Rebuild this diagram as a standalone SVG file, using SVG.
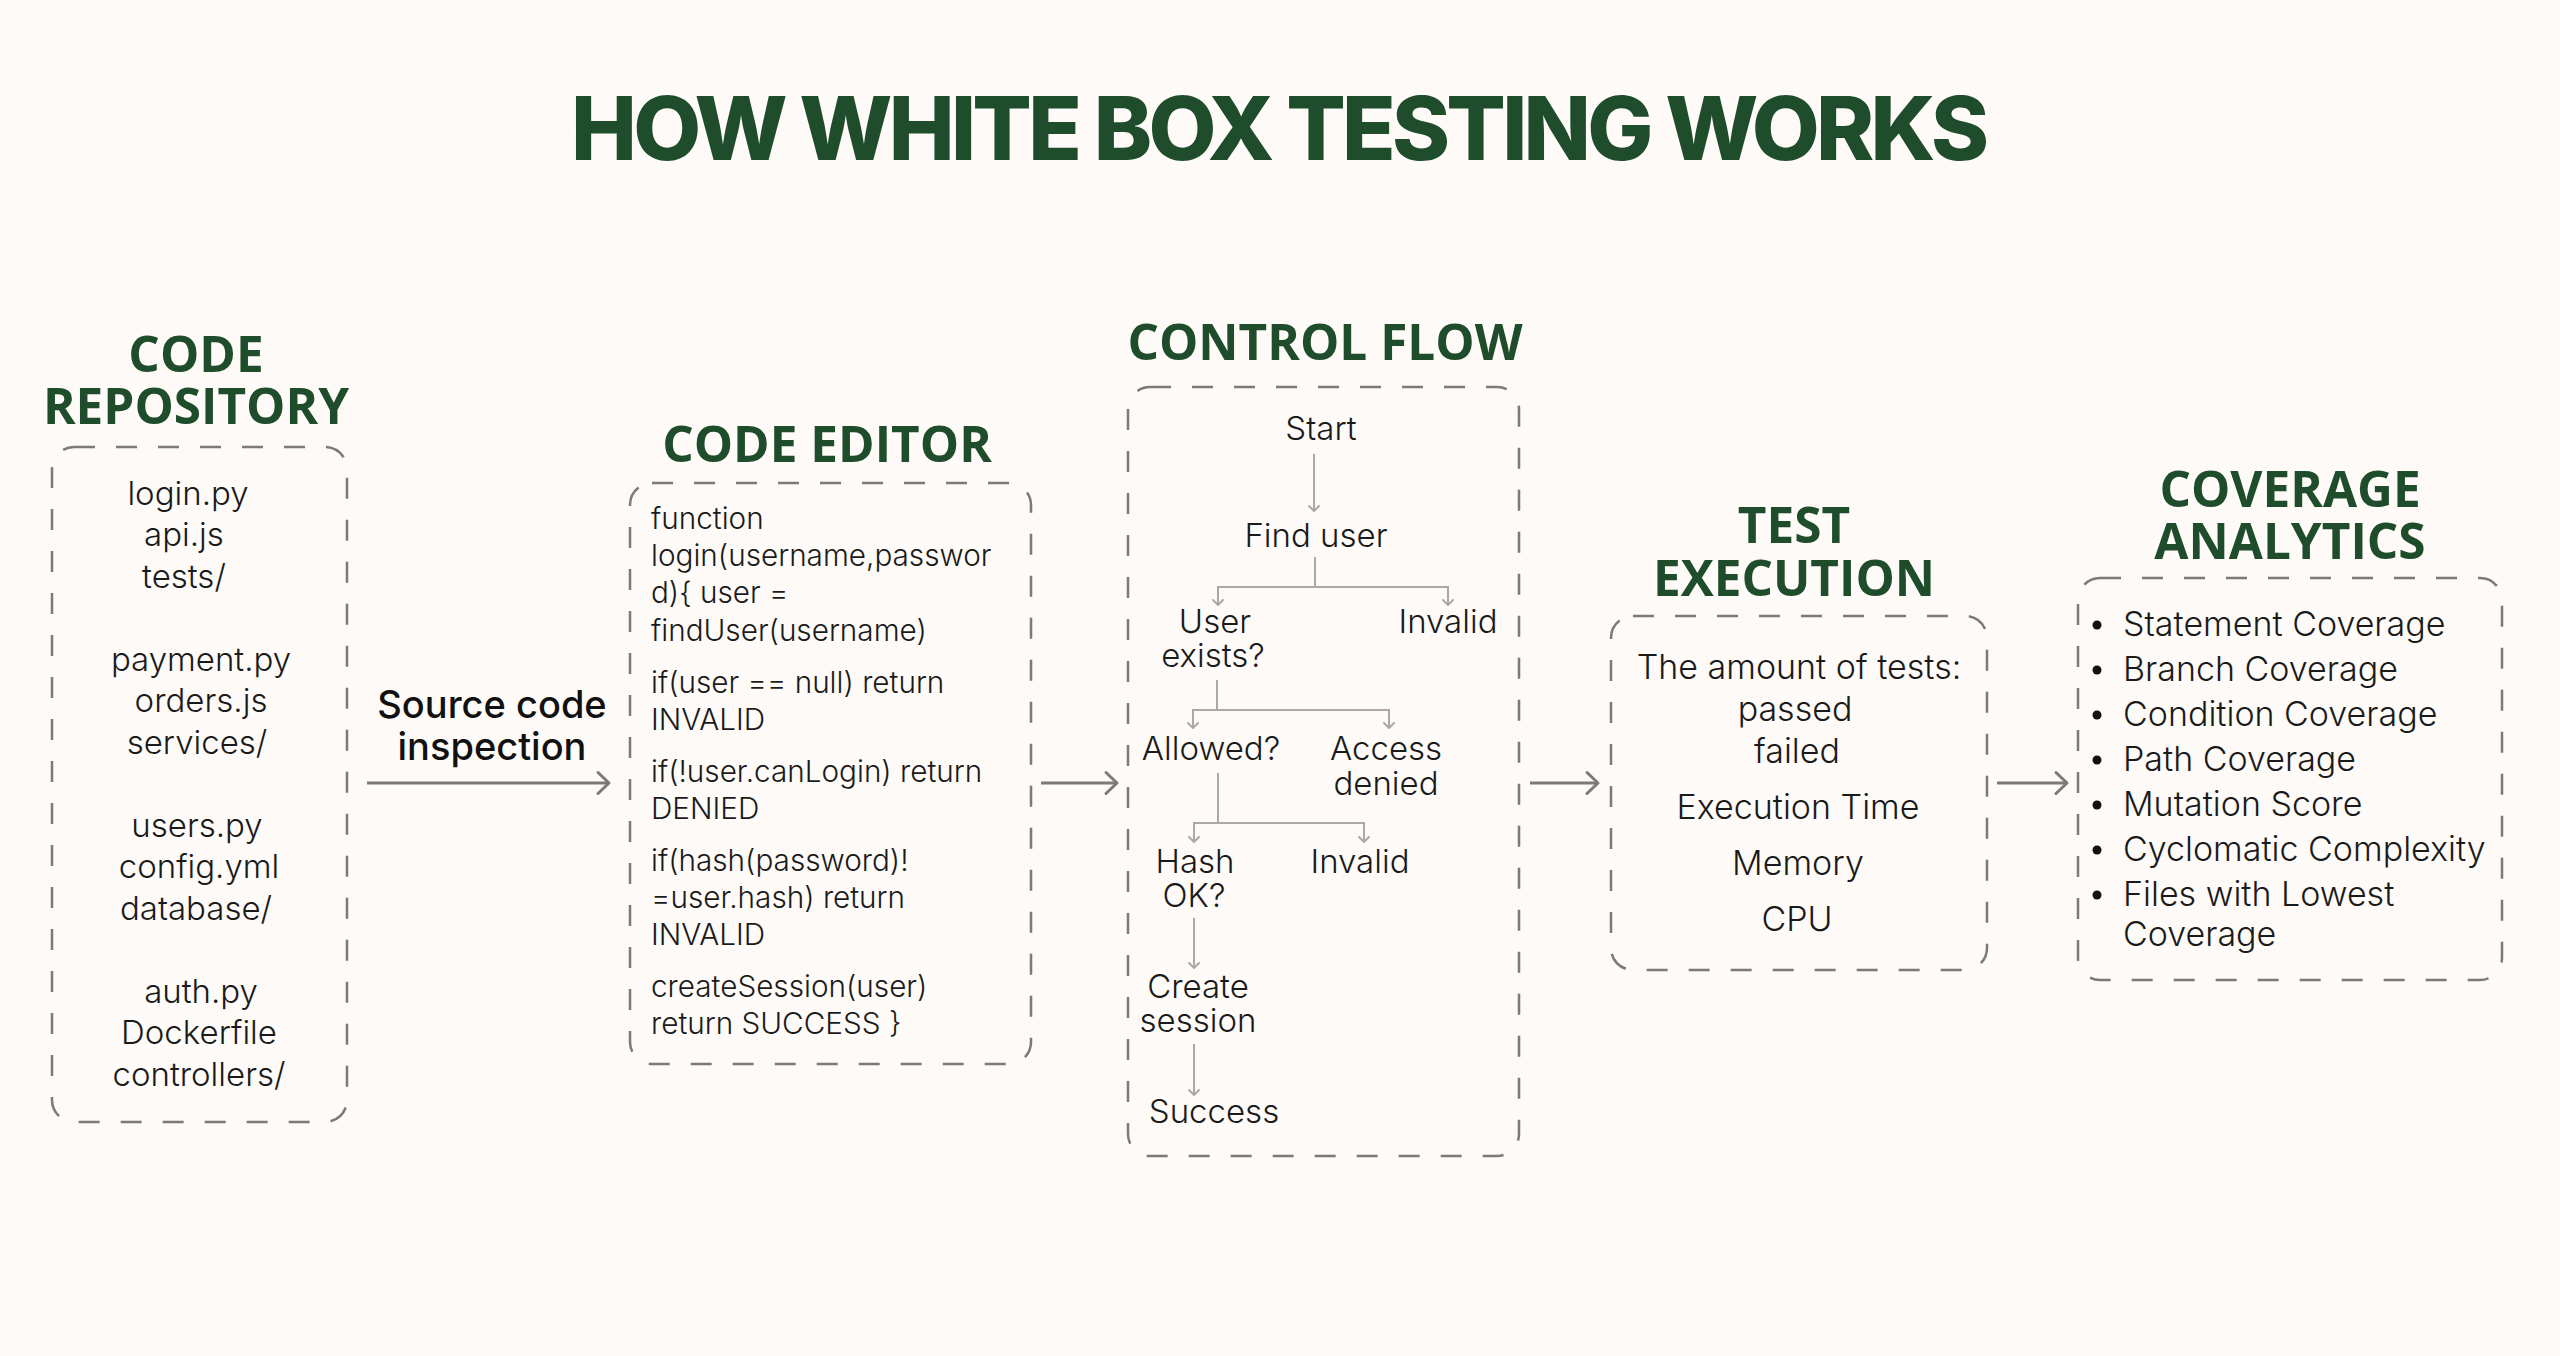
<svg xmlns="http://www.w3.org/2000/svg" width="2560" height="1356" viewBox="0 0 2560 1356">
  <defs>
    <style>
      .title { font-family: Inter, "Liberation Sans", sans-serif; font-weight: 800; font-size: 88px; fill: #1f4d2b; }
      .head { font-family: "Open Sans", "Liberation Sans", sans-serif; font-weight: 700; font-size: 49.5px; fill: #1f4d2b; text-anchor: middle; }
      .body { font-family: Inter, "Liberation Sans", sans-serif; font-weight: 300; font-size: 33px; fill: #1a1a1a; }
      .big { font-size: 34px; }
      .code { font-family: Inter, "Liberation Sans", sans-serif; font-weight: 300; font-size: 29.7px; fill: #1a1a1a; }
      .mid { text-anchor: middle; }
      .label { font-family: Inter, "Liberation Sans", sans-serif; font-weight: 500; font-size: 38px; fill: #111111; text-anchor: middle; }
      .box { fill: none; stroke: #7a7a7a; stroke-width: 2.5; stroke-dasharray: 21 21; }
      .main { fill: none; stroke: #7a7a7a; stroke-width: 3; }
      .flow { fill: none; stroke: #a9a9a9; stroke-width: 2; }
    </style>
    <marker id="big" markerUnits="userSpaceOnUse" markerWidth="30" markerHeight="30" viewBox="-15 -15 30 30" refX="0" refY="0" orient="auto">
      <path d="M-11,-10.5 L0,0 L-11,10.5" fill="none" stroke="#7a7a7a" stroke-width="3" stroke-linecap="round" stroke-linejoin="round"/>
    </marker>
    <marker id="sm" markerUnits="userSpaceOnUse" markerWidth="16" markerHeight="16" viewBox="-8 -8 16 16" refX="0" refY="0" orient="auto">
      <path d="M-5,-5 L0,0 L-5,5" fill="none" stroke="#a9a9a9" stroke-width="2" stroke-linecap="round" stroke-linejoin="round"/>
    </marker>
  </defs>

  <rect x="0" y="0" width="2560" height="1356" fill="#fdfaf8"/>

  <text class="title" x="1280" y="160" text-anchor="middle" textLength="1418" lengthAdjust="spacing">HOW WHITE BOX TESTING WORKS</text>

  <g id="code-repository">
    <text class="head" x="196" y="372">CODE</text>
    <text class="head" x="196" y="424">REPOSITORY</text>
    <rect class="box" x="52" y="447" width="295" height="675" rx="22"/>
    <text class="body mid" x="188" y="505">login.py</text>
    <text class="body mid" x="184" y="546">api.js</text>
    <text class="body mid" x="184" y="588">tests/</text>
    <text class="body mid" x="201" y="671">payment.py</text>
    <text class="body mid" x="201" y="712">orders.js</text>
    <text class="body mid" x="197" y="754">services/</text>
    <text class="body mid" x="197" y="837">users.py</text>
    <text class="body mid" x="199" y="878">config.yml</text>
    <text class="body mid" x="196" y="920">database/</text>
    <text class="body mid" x="201" y="1003">auth.py</text>
    <text class="body mid" x="199" y="1044">Dockerfile</text>
    <text class="body mid" x="199" y="1086">controllers/</text>
  </g>

  <g id="source-code-inspection">
    <text class="label" x="492" y="718">Source code</text>
    <text class="label" x="492" y="760">inspection</text>
  </g>

  <g id="code-editor">
    <text class="head" x="827" y="462">CODE EDITOR</text>
    <rect class="box" x="630" y="483" width="401" height="581" rx="22"/>
    <text class="code" x="651" y="529">function</text>
    <text class="code" x="651" y="566">login(username,passwor</text>
    <text class="code" x="651" y="603">d){ user =</text>
    <text class="code" x="651" y="641">findUser(username)</text>
    <text class="code" x="651" y="693">if(user == null) return</text>
    <text class="code" x="651" y="730">INVALID</text>
    <text class="code" x="651" y="782">if(!user.canLogin) return</text>
    <text class="code" x="651" y="819">DENIED</text>
    <text class="code" x="651" y="871">if(hash(password)!</text>
    <text class="code" x="651" y="908">=user.hash) return</text>
    <text class="code" x="651" y="945">INVALID</text>
    <text class="code" x="651" y="997">createSession(user)</text>
    <text class="code" x="651" y="1034">return SUCCESS }</text>
  </g>

  <g id="control-flow">
    <text class="head" x="1325" y="360">CONTROL FLOW</text>
    <rect class="box" x="1128" y="387" width="391" height="769" rx="22"/>
    <g id="cf-start"><text class="body mid" x="1321" y="440">Start</text></g>
    <g id="cf-find-user"><text class="body mid" x="1316" y="547">Find user</text></g>
    <g id="cf-user-exists">
      <text class="body mid" x="1215" y="633">User</text>
      <text class="body mid" x="1213" y="667">exists?</text>
    </g>
    <g id="cf-invalid-1"><text class="body mid" x="1448" y="633">Invalid</text></g>
    <g id="cf-allowed"><text class="body mid" x="1211" y="760">Allowed?</text></g>
    <g id="cf-access-denied">
      <text class="body mid" x="1386" y="760">Access</text>
      <text class="body mid" x="1386" y="795">denied</text>
    </g>
    <g id="cf-hash-ok">
      <text class="body mid" x="1195" y="873">Hash</text>
      <text class="body mid" x="1194" y="907">OK?</text>
    </g>
    <g id="cf-invalid-2"><text class="body mid" x="1360" y="873">Invalid</text></g>
    <g id="cf-create-session">
      <text class="body mid" x="1198" y="998">Create</text>
      <text class="body mid" x="1198" y="1032">session</text>
    </g>
    <g id="cf-success"><text class="body mid" x="1214" y="1123">Success</text></g>
  </g>

  <g id="test-execution">
    <text class="head" x="1794" y="543">TEST</text>
    <text class="head" x="1794" y="596">EXECUTION</text>
    <rect class="box" x="1611" y="616" width="376" height="354" rx="22"/>
    <text class="body big mid" x="1799" y="679">The amount of tests:</text>
    <text class="body big mid" x="1795" y="721">passed</text>
    <text class="body big mid" x="1797" y="763">failed</text>
    <text class="body big mid" x="1798" y="819">Execution Time</text>
    <text class="body big mid" x="1798" y="875">Memory</text>
    <text class="body big mid" x="1797" y="931">CPU</text>
  </g>

  <g id="coverage-analytics">
    <text class="head" x="2290" y="507">COVERAGE</text>
    <text class="head" x="2290" y="559">ANALYTICS</text>
    <rect class="box" x="2078" y="578" width="424" height="402" rx="22"/>
    <g fill="#111111">
      <circle cx="2097" cy="625" r="4.5"/>
      <circle cx="2097" cy="670" r="4.5"/>
      <circle cx="2097" cy="715" r="4.5"/>
      <circle cx="2097" cy="760" r="4.5"/>
      <circle cx="2097" cy="805" r="4.5"/>
      <circle cx="2097" cy="850" r="4.5"/>
      <circle cx="2097" cy="895" r="4.5"/>
    </g>
    <text class="body big" x="2123" y="636">Statement Coverage</text>
    <text class="body big" x="2123" y="681">Branch Coverage</text>
    <text class="body big" x="2123" y="726">Condition Coverage</text>
    <text class="body big" x="2123" y="771">Path Coverage</text>
    <text class="body big" x="2123" y="816">Mutation Score</text>
    <text class="body big" x="2123" y="861">Cyclomatic Complexity</text>
    <text class="body big" x="2123" y="906">Files with Lowest</text>
    <text class="body big" x="2123" y="946">Coverage</text>
  </g>

  <g id="connectors">
    <path class="main" d="M367,783 H609" marker-end="url(#big)"/>
    <path class="main" d="M1041,783 H1117" marker-end="url(#big)"/>
    <path class="main" d="M1530,783 H1598" marker-end="url(#big)"/>
    <path class="main" d="M1997,783 H2067" marker-end="url(#big)"/>
    <path class="flow" d="M1314,454 V511" marker-end="url(#sm)"/>
    <path class="flow" d="M1315,557 V587 H1218 V605" marker-end="url(#sm)"/>
    <path class="flow" d="M1315,587 H1448 V605" marker-end="url(#sm)"/>
    <path class="flow" d="M1217,680 V710 H1193 V728" marker-end="url(#sm)"/>
    <path class="flow" d="M1217,710 H1389 V728" marker-end="url(#sm)"/>
    <path class="flow" d="M1218,773 V823 H1194 V842" marker-end="url(#sm)"/>
    <path class="flow" d="M1218,823 H1364 V842" marker-end="url(#sm)"/>
    <path class="flow" d="M1194,918 V968" marker-end="url(#sm)"/>
    <path class="flow" d="M1194,1044 V1095" marker-end="url(#sm)"/>
  </g>
</svg>
